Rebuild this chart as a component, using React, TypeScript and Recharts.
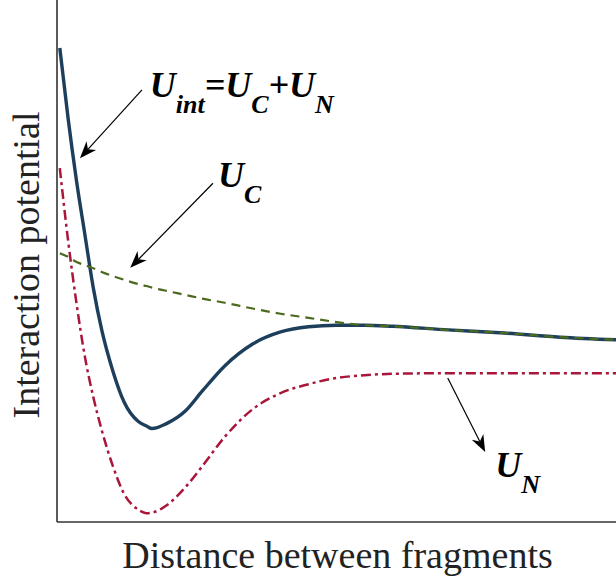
import React from "react";
import { LineChart, Line, XAxis, YAxis, ReferenceLine, ReferenceDot, Label } from "recharts";

// Distance between fragments (arbitrary units)
const distance = [0.05, 0.2, 0.35, 0.5, 0.65, 0.8, 1.0, 1.2, 1.45, 1.6, 1.7, 1.95, 2.3, 2.6, 3.0, 3.5, 4.0, 4.5, 5.0, 5.5, 6, 7, 8, 9, 10];
// U_int = U_C + U_N
const uInt = [9.08, 7.72, 6.53, 5.5, 4.48, 3.68, 2.89, 2.3, 1.93, 1.84, 1.79, 1.88, 2.13, 2.51, 2.99, 3.41, 3.64, 3.74, 3.77, 3.77, 3.75, 3.68, 3.62, 3.54, 3.49];
// U_C
const uC = [5.15, 5.08, 4.98, 4.92, 4.86, 4.79, 4.71, 4.64, 4.56, 4.52, 4.49, 4.43, 4.35, 4.28, 4.2, 4.09, 3.99, 3.91, 3.83, 3.77, 3.75, 3.68, 3.62, 3.54, 3.49];
// U_N
const uN = [6.78, 5.38, 4.18, 3.16, 2.39, 1.76, 1.07, 0.54, 0.24, 0.17, 0.18, 0.31, 0.67, 1.07, 1.63, 2.16, 2.47, 2.64, 2.76, 2.81, 2.84, 2.85, 2.85, 2.85, 2.85];

const xLabel = "Distance between fragments";
const yLabel = "Interaction potential";

// annotation arrows: from -> to (data coordinates)
const arrows = [
  { from: { x: 1.52, y: 8.28 }, to: { x: 0.41, y: 6.97 } },
  { from: { x: 2.79, y: 6.49 }, to: { x: 1.31, y: 4.87 } },
  { from: { x: 6.99, y: 2.76 }, to: { x: 7.66, y: 1.34 } },
];

// annotation labels: main letter + subscript pieces
const labels = [
  { x: 1.66, y: 8.14, parts: [["U", "int"], ["=U", "C"], ["+U", "N"]] },
  { x: 2.88, y: 6.42, parts: [["U", "C"]] },
  { x: 7.84, y: 0.86, parts: [["U", "N"]] },
];

const data = distance.map((r, i) => ({ r, uInt: uInt[i], uC: uC[i], uN: uN[i] }));

const serif = "Liberation Serif, Times New Roman, DejaVu Serif, serif";

const ArrowShape = (props: any) => {
  const { x1, y1, x2, y2 } = props;
  const ang = Math.atan2(y2 - y1, x2 - x1);
  const L = 17;
  const W = 6.5;
  const c = Math.cos(ang);
  const s = Math.sin(ang);
  const pt = (dx: number, dy: number) => `${x2 + dx * c - dy * s},${y2 + dx * s + dy * c}`;
  const pts = [pt(0, 0), pt(-L, -W), pt(-L * 0.7, 0), pt(-L, W)].join(" ");
  const lx = x2 - L * 0.7 * c;
  const ly = y2 - L * 0.7 * s;
  return (
    <g>
      <line x1={x1} y1={y1} x2={lx} y2={ly} stroke="#000" strokeWidth={1.2} />
      <polygon points={pts} fill="#000" />
    </g>
  );
};

const makeLabelShape = (parts: string[][]) => (props: any) => {
  const { cx, cy } = props;
  const spans: any[] = [];
  parts.forEach((p, i) => {
    spans.push(
      <tspan key={`m${i}`} fontSize={36} dy={i === 0 ? 0 : -16}>
        {p[0]}
      </tspan>
    );
    spans.push(
      <tspan key={`s${i}`} fontSize={26} dy={16}>
        {p[1]}
      </tspan>
    );
  });
  return (
    <text
      x={cx}
      y={cy}
      fontFamily={serif}
      style={{ fontFamily: serif, fontWeight: "bold", fontStyle: "italic" }}
      fontWeight="bold"
      fontStyle="italic"
      fill="#000"
    >
      {spans}
    </text>
  );
};

export default function App() {
  return (
    <div style={{ position: "absolute", left: 0, top: 0, width: 616, height: 583, background: "#fff", fontFamily: serif }}>
      <LineChart width={616} height={583} data={data} margin={{ top: 0, right: 0, bottom: 0, left: 0 }} style={{ fontFamily: serif }}>
        <XAxis
          dataKey="r"
          type="number"
          domain={[0, 10]}
          tick={false}
          tickLine={false}
          height={61}
          axisLine={{ stroke: "#333", strokeWidth: 1.6 }}
        >
          <Label
            content={(p: any) => {
              const vb = p.viewBox;
              return (
                <text
                  x={vb.x + vb.width / 2 + 1}
                  y={vb.y + 46}
                  textAnchor="middle"
                  fontFamily={serif}
                  style={{ fontFamily: serif }}
                  fontSize={38}
                  fill="#222"
                >
                  {xLabel}
                </text>
              );
            }}
          />
        </XAxis>
        <YAxis
          type="number"
          domain={[0, 10]}
          tick={false}
          tickLine={false}
          width={57}
          axisLine={{ stroke: "#333", strokeWidth: 1.6 }}
        >
          <Label
            content={(p: any) => {
              const vb = p.viewBox;
              const x = vb.x + 39;
              const y = vb.y + 265;
              return (
                <text
                  x={x}
                  y={y}
                  transform={`rotate(-90, ${x}, ${y})`}
                  textAnchor="middle"
                  fontFamily={serif}
                  style={{ fontFamily: serif }}
                  fontSize={38}
                  fill="#222"
                >
                  {yLabel}
                </text>
              );
            }}
          />
        </YAxis>
        <Line type="monotone" dataKey="uInt" stroke="#1d3f5c" strokeWidth={3.4} dot={false} isAnimationActive={false} />
        <Line type="monotone" dataKey="uN" stroke="#a8173a" strokeWidth={2.5} strokeDasharray="10 4 3 4" dot={false} isAnimationActive={false} />
        <Line type="monotone" dataKey="uC" stroke="#4b6a1e" strokeWidth={2.2} strokeDasharray="9 6" dot={false} isAnimationActive={false} />
        {arrows.map((a, i) => (
          <ReferenceLine key={`a${i}`} segment={[a.from, a.to]} shape={ArrowShape} ifOverflow="visible" />
        ))}
        {labels.map((l, i) => (
          <ReferenceDot key={`l${i}`} x={l.x} y={l.y} r={0} shape={makeLabelShape(l.parts)} ifOverflow="visible" />
        ))}
      </LineChart>
    </div>
  );
}
